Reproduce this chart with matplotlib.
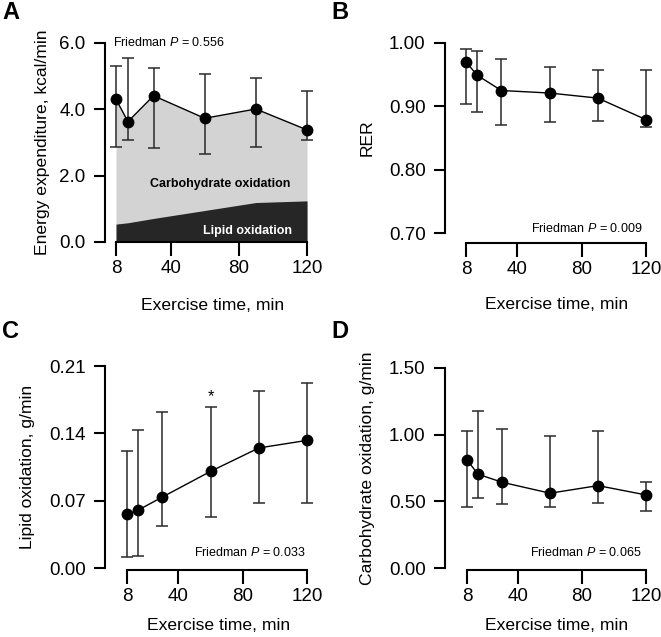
import numpy as np
import matplotlib
matplotlib.use("Agg")
from matplotlib import pyplot as plt

plt.rcParams['font.family'] = ['Liberation Sans', 'DejaVu Sans']
plt.rcParams['mathtext.fontset'] = 'custom'
plt.rcParams['mathtext.rm'] = 'Liberation Sans'
plt.rcParams['mathtext.it'] = 'Liberation Sans:italic'

# exercise time points (min)
time = [8, 15, 30, 60, 90, 120]

# A - energy expenditure, kcal/min
ee_val = [4.30, 3.63, 4.41, 3.73, 4.01, 3.38]
ee_low = [2.87, 3.07, 2.83, 2.65, 2.87, 3.09]
ee_high = [5.30, 5.55, 5.26, 5.07, 4.95, 4.55]
ee_lipid = [0.54, 0.58, 0.71, 0.95, 1.19, 1.24]

# B - RER
rer_val = [0.970, 0.949, 0.925, 0.921, 0.913, 0.879]
rer_low = [0.903, 0.891, 0.871, 0.875, 0.877, 0.867]
rer_high = [0.991, 0.987, 0.975, 0.962, 0.957, 0.958]

# C - lipid oxidation, g/min
lip_val = [0.0558, 0.0603, 0.0738, 0.1005, 0.1248, 0.1327]
lip_low = [0.0114, 0.0128, 0.0433, 0.0530, 0.0676, 0.0676]
lip_high = [0.1213, 0.1438, 0.1620, 0.1674, 0.1840, 0.1923]

# D - carbohydrate oxidation, g/min
cho_val = [0.810, 0.703, 0.643, 0.561, 0.618, 0.548]
cho_low = [0.454, 0.528, 0.478, 0.458, 0.491, 0.431]
cho_high = [1.029, 1.174, 1.039, 0.992, 1.024, 0.648]

xticks = [8, 40, 80, 120]
xlabel = 'Exercise time, min'

TICK_FS = 13.5
LABEL_FS = 12.6
NOTE_FS = 9


def style_axes(ax, xlim, ylim, yticks, yfmt, bottom_out=0):
    ax.set_xlim(*xlim)
    ax.set_ylim(*ylim)
    ax.spines['top'].set_visible(False)
    ax.spines['right'].set_visible(False)
    for s in ['left', 'bottom']:
        ax.spines[s].set_linewidth(1.5)
    ax.spines['bottom'].set_bounds(8, 120)
    ax.spines['left'].set_bounds(ylim[0], ylim[1])
    ax.spines['bottom'].set_position(('outward', bottom_out))
    ax.set_xticks(xticks)
    ax.set_yticks(yticks)
    ax.set_yticklabels([yfmt.format(v) for v in yticks])
    ax.tick_params(axis='x', length=10, width=1.5, labelsize=TICK_FS, pad=3)
    ax.tick_params(axis='y', length=8, width=1.5, labelsize=TICK_FS, pad=6)


def draw_series(ax, val, low, high):
    err = [np.array(val) - np.array(low), np.array(high) - np.array(val)]
    ax.errorbar(time, val, yerr=err, fmt='none', ecolor='#2a2a2a',
                elinewidth=1.1, capsize=4.5, capthick=1.1, clip_on=False, zorder=3)
    ax.plot(time, val, color='black', lw=1.0, marker='o', markersize=7.5,
            clip_on=False, zorder=4)


fig = plt.figure(figsize=(6.61, 6.37), dpi=100)
axA = fig.add_axes([0.1589, 0.6201, 0.3056, 0.3124])
axB = fig.add_axes([0.6732, 0.6342, 0.3041, 0.2983])
axC = fig.add_axes([0.1589, 0.1083, 0.3056, 0.3171])
axD = fig.add_axes([0.6732, 0.1083, 0.3041, 0.3140])

# A
axA.fill_between(time, 0, ee_val, color='#d3d3d3', lw=0, zorder=1)
axA.fill_between(time, 0, ee_lipid, color='#262626', lw=0, zorder=2)
draw_series(axA, ee_val, ee_low, ee_high)
style_axes(axA, (1.55, 120), (0, 6), [0, 2, 4, 6], '{:.1f}')
axA.text(69, 1.75, 'Carbohydrate oxidation', ha='center', va='center',
         fontsize=NOTE_FS, fontweight='bold', color='black', zorder=5)
axA.text(85, 0.33, 'Lipid oxidation', ha='center', va='center',
         fontsize=NOTE_FS, fontweight='bold', color='white', zorder=5)
axA.text(0.04, 1.0, 'Friedman $P$ = 0.556', transform=axA.transAxes,
         ha='left', va='center', fontsize=NOTE_FS)
axA.set_ylabel('Energy expenditure, kcal/min', fontsize=LABEL_FS)
axA.yaxis.set_label_coords(-0.272, 0.5)
axA.set_xlabel(xlabel, fontsize=LABEL_FS)
axA.xaxis.set_label_coords(0.532, -0.281)

# B
draw_series(axB, rer_val, rer_low, rer_high)
style_axes(axB, (-5.07, 120), (0.70, 1.00), [0.70, 0.80, 0.90, 1.00], '{:.2f}',
           bottom_out=7.2)
axB.text(0.985, 0.026, 'Friedman $P$ = 0.009', transform=axB.transAxes,
         ha='right', va='center', fontsize=NOTE_FS)
axB.set_ylabel('RER', fontsize=LABEL_FS)
axB.yaxis.set_label_coords(-0.348, 0.5)
axB.set_xlabel(xlabel, fontsize=LABEL_FS)
axB.xaxis.set_label_coords(0.557, -0.337)

# C
draw_series(axC, lip_val, lip_low, lip_high)
style_axes(axC, (-5.7, 120), (0, 0.21), [0, 0.07, 0.14, 0.21], '{:.2f}',
           bottom_out=1.2)
axC.text(60, 0.178, '*', ha='center', va='center', fontsize=12)
axC.text(0.995, 0.079, 'Friedman $P$ = 0.033', transform=axC.transAxes,
         ha='right', va='center', fontsize=NOTE_FS)
axC.set_ylabel('Lipid oxidation, g/min', fontsize=LABEL_FS)
axC.yaxis.set_label_coords(-0.347, 0.5)
axC.set_xlabel(xlabel, fontsize=LABEL_FS)
axC.xaxis.set_label_coords(0.56, -0.248)

# D
draw_series(axD, cho_val, cho_low, cho_high)
style_axes(axD, (-5.75, 120), (0, 1.5), [0, 0.5, 1.0, 1.5], '{:.2f}',
           bottom_out=1.2)
axD.text(0.98, 0.08, 'Friedman $P$ = 0.065', transform=axD.transAxes,
         ha='right', va='center', fontsize=NOTE_FS)
axD.set_ylabel('Carbohydrate oxidation, g/min', fontsize=LABEL_FS)
axD.yaxis.set_label_coords(-0.348, 0.5)
axD.set_xlabel(xlabel, fontsize=LABEL_FS)
axD.xaxis.set_label_coords(0.557, -0.25)

# panel letters
for lbl, x, y in [('A', 0.003, 0.998), ('B', 0.501, 0.998),
                  ('C', 0.003, 0.497), ('D', 0.501, 0.497)]:
    fig.text(x, y, lbl, ha='left', va='top', fontsize=17, fontweight='bold')

fig.savefig('out.png', dpi=100)
